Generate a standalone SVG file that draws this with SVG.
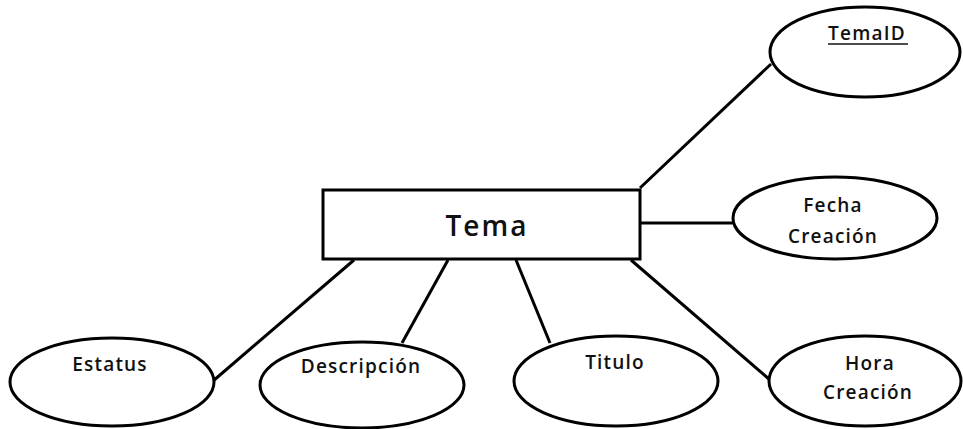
<svg xmlns="http://www.w3.org/2000/svg" width="963" height="429" viewBox="0 0 963 429">
  <style>
    .shape { fill: #fff; stroke: #000; stroke-width: 3; }
    .link { stroke: #000; stroke-width: 3; fill: none; }
    .lbl { font-family: "Open Sans", "Liberation Sans", sans-serif; font-size: 19px; font-weight: 600; fill: #111; text-anchor: middle; letter-spacing: 1.2px; }
    .title { font-family: "Open Sans", "Liberation Sans", sans-serif; font-size: 28px; font-weight: 600; fill: #111; text-anchor: middle; letter-spacing: 2px; }
  </style>
  <rect width="963" height="429" fill="#fff"/>

  <!-- connectors -->
  <g id="connectors">
    <line class="link" x1="640" y1="188" x2="771" y2="64"/>
    <line class="link" x1="640" y1="223" x2="734" y2="223"/>
    <line class="link" x1="631" y1="260" x2="770" y2="380"/>
    <line class="link" x1="516" y1="260" x2="550" y2="343"/>
    <line class="link" x1="448" y1="260" x2="402" y2="343"/>
    <line class="link" x1="354" y1="260" x2="213" y2="381"/>
  </g>

  <!-- entity -->
  <g id="tema">
    <rect class="shape" x="323" y="190" width="317" height="69"/>
    <text class="title" x="487" y="236">Tema</text>
  </g>

  <!-- attributes -->
  <g id="temaid">
    <ellipse class="shape" cx="865" cy="52" rx="95" ry="45"/>
    <text class="lbl" x="867" y="40">TemaID</text>
    <line x1="828" y1="44" x2="908" y2="44" stroke="#111" stroke-width="1.5"/>
  </g>
  <g id="fecha-creacion">
    <ellipse class="shape" cx="835" cy="218" rx="102" ry="41"/>
    <text class="lbl" x="833" y="212">Fecha</text>
    <text class="lbl" x="833" y="243">Creación</text>
  </g>
  <g id="hora-creacion">
    <ellipse class="shape" cx="865" cy="381" rx="96" ry="45"/>
    <text class="lbl" x="870" y="370">Hora</text>
    <text class="lbl" x="868" y="399">Creación</text>
  </g>
  <g id="titulo">
    <ellipse class="shape" cx="616" cy="381" rx="102" ry="45"/>
    <text class="lbl" x="615" y="369">Titulo</text>
  </g>
  <g id="descripcion">
    <ellipse class="shape" cx="362" cy="385" rx="102" ry="43"/>
    <text class="lbl" x="361" y="373">Descripción</text>
  </g>
  <g id="estatus">
    <ellipse class="shape" cx="112" cy="382" rx="102" ry="44"/>
    <text class="lbl" x="110" y="371">Estatus</text>
  </g>
</svg>
